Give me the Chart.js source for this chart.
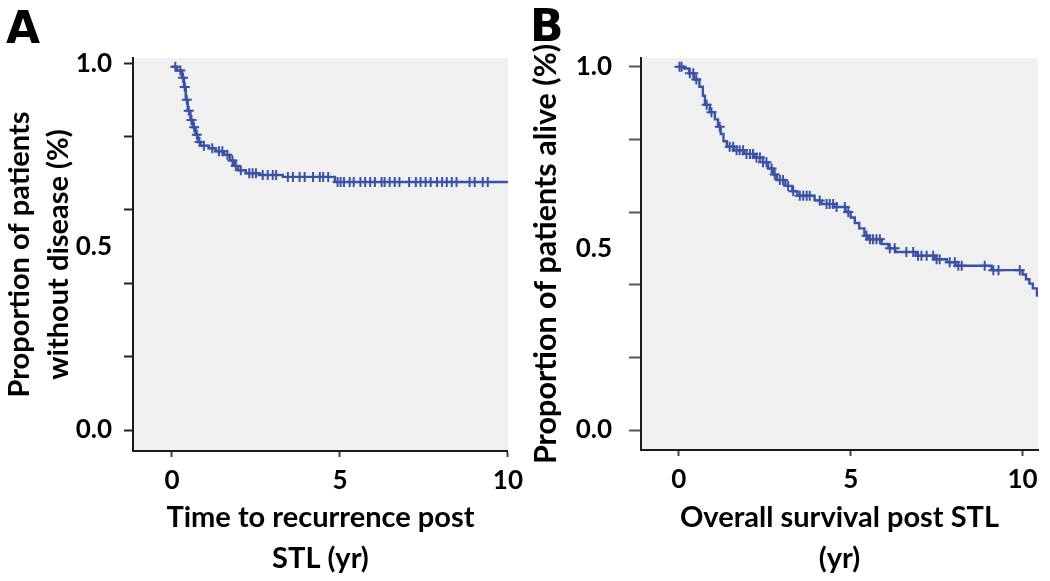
<!DOCTYPE html>
<html>
<head>
<meta charset="utf-8">
<script src="https://cdn.jsdelivr.net/npm/chart.js@4"></script>
<style>
  html, body { margin: 0; padding: 0; background: #ffffff; }
  #wrap { position: relative; width: 1050px; height: 581px; overflow: hidden; }
  canvas { position: absolute; top: 0; }
  #cA { left: 0; }
  #cB { left: 531px; }
  .panel { position: absolute; font-family: "DejaVu Sans", sans-serif; font-weight: bold; font-size: 44px; line-height: 1; color: #000; }
</style>
</head>
<body>
<div id="wrap">
  <canvas id="cA" width="531" height="581"></canvas>
  <canvas id="cB" width="519" height="581"></canvas>
  <div class="panel" style="left:6px; top:6px;">A</div>
  <div class="panel" style="left:530px; top:4px;">B</div>
</div>
<script>
// ---------- DATA ----------
// Panel A: time to recurrence (Kaplan-Meier steps: time in years, proportion after event)
const recurrenceTimes  = [0, 0.15, 0.3, 0.36, 0.41, 0.47, 0.55, 0.62, 0.7, 0.78, 0.85, 1.1, 1.3, 1.55, 1.72, 1.85, 1.97, 2.2, 2.6, 3.3, 4.85, 10];
const recurrenceSurv   = [0.99, 0.98, 0.96, 0.935, 0.9, 0.87, 0.845, 0.825, 0.805, 0.785, 0.775, 0.768, 0.76, 0.75, 0.735, 0.72, 0.708, 0.70, 0.695, 0.69, 0.676, 0.676];
// Panel A censored observations
const recurrenceCensorT = [0.1, 0.25, 0.33, 0.38, 0.44, 0.5, 0.58, 0.66, 0.74, 0.82, 0.95, 1.2, 1.4, 1.5, 1.65, 1.8, 1.9, 2.05, 2.3, 2.4, 2.5, 2.7, 2.85, 3.0, 3.1, 3.45, 3.6, 3.8, 3.95, 4.2, 4.4, 4.5, 4.65,
  4.93, 5.02, 5.12, 5.29, 5.41, 5.61, 5.75, 5.9, 6.04, 6.24, 6.33, 6.48, 6.63, 6.77, 7.06, 7.26, 7.4, 7.55, 7.7, 7.89, 8.04, 8.18, 8.33, 8.47, 8.86, 9.01, 9.25, 9.4];
const recurrenceCensorS = [0.99, 0.98, 0.96, 0.935, 0.9, 0.87, 0.845, 0.825, 0.805, 0.785, 0.775, 0.768, 0.76, 0.76, 0.75, 0.735, 0.72, 0.708, 0.70, 0.70, 0.70, 0.695, 0.695, 0.695, 0.695, 0.69, 0.69, 0.69, 0.69, 0.69, 0.69, 0.69, 0.69,
  0.676, 0.676, 0.676, 0.676, 0.676, 0.676, 0.676, 0.676, 0.676, 0.676, 0.676, 0.676, 0.676, 0.676, 0.676, 0.676, 0.676, 0.676, 0.676, 0.676, 0.676, 0.676, 0.676, 0.676, 0.676, 0.676, 0.676, 0.676];

// Panel B: overall survival
const survivalTimes = [0, 0.15, 0.3, 0.45, 0.6, 0.7, 0.76, 0.9, 1.05, 1.14, 1.22, 1.3, 1.4, 1.6, 1.9, 2.2, 2.45, 2.6, 2.75, 2.85, 3.1, 3.3, 3.45, 3.95, 4.15, 4.5, 4.85, 5.0, 5.12, 5.25, 5.4, 5.5, 5.9, 6.1, 6.3, 6.9, 7.45, 7.8, 8.05, 9.1, 10.0, 10.1, 10.2, 10.3, 10.42];
const survivalSurv  = [1.0, 0.995, 0.982, 0.965, 0.945, 0.92, 0.895, 0.875, 0.855, 0.835, 0.815, 0.795, 0.78, 0.77, 0.76, 0.75, 0.737, 0.72, 0.703, 0.688, 0.672, 0.657, 0.645, 0.632, 0.622, 0.614, 0.6, 0.585, 0.57, 0.555, 0.535, 0.525, 0.512, 0.5, 0.49, 0.48, 0.47, 0.462, 0.452, 0.44, 0.428, 0.415, 0.403, 0.39, 0.367];
const survivalCensorT = [0.02, 0.08, 0.32, 0.42, 0.51, 0.81, 0.95, 1.19, 1.48, 1.58, 1.68, 1.77, 1.87, 1.97, 2.07, 2.16, 2.26, 2.36, 2.45, 2.55, 2.7, 2.79, 2.94, 3.03, 3.18, 3.33, 3.52, 3.62, 3.72, 3.81, 4.1, 4.3, 4.39, 4.49, 4.59, 4.83, 4.93,
  5.46, 5.56, 5.65, 5.75, 5.85, 6.14, 6.28, 6.62, 6.82, 6.96, 7.06, 7.21, 7.4, 7.5, 7.59, 7.88, 8.03, 8.13, 8.23, 8.9, 9.15, 9.3, 9.92];
const survivalCensorS = [1.0, 1.0, 0.982, 0.982, 0.965, 0.895, 0.875, 0.835, 0.78, 0.78, 0.77, 0.77, 0.77, 0.76, 0.76, 0.76, 0.75, 0.75, 0.737, 0.737, 0.72, 0.703, 0.688, 0.688, 0.672, 0.657, 0.645, 0.645, 0.645, 0.645, 0.632, 0.622, 0.622, 0.622, 0.614, 0.614, 0.6,
  0.535, 0.525, 0.525, 0.525, 0.525, 0.5, 0.5, 0.49, 0.49, 0.48, 0.48, 0.48, 0.48, 0.47, 0.47, 0.462, 0.462, 0.452, 0.452, 0.452, 0.44, 0.44, 0.44];

// Axis ticks
const xTickValues = [0, 5, 10];
const xTickLabels = ['0', '5', '10'];
const yTickMarkValues = [0, 0.2, 0.4, 0.6, 0.8, 1.0];
const yTickLabelValues = [0, 0.5, 1.0];
const yTickLabels = ['0.0', '0.5', '1.0'];

// Axis titles
const titleA_x = ['Time to recurrence post', 'STL (yr)'];
const titleA_y = ['Proportion of patients', 'without disease (%)'];
const titleB_x = ['Overall survival post STL', '(yr)'];
const titleB_y = 'Proportion of patients alive (%)';

// ---------- STYLE ----------
const LINE = '#3a52a6';
const FONT = 'Lato';

const toPts = (xs, ys) => xs.map((x, i) => ({ x: x, y: ys[i] }));

const bgPlugin = {
  id: 'plotBg',
  beforeDraw(chart) {
    const a = chart.chartArea, c = chart.ctx;
    c.save();
    c.fillStyle = '#f0f0f0';
    c.fillRect(a.left, a.top, a.right - a.left, a.bottom - a.top);
    c.restore();
  }
};

function makeChart(id, cfg) {
  const yAll = Array.from(new Set(yTickMarkValues.concat(yTickLabelValues))).sort((a, b) => a - b);
  return new Chart(document.getElementById(id), {
    type: 'line',
    data: {
      datasets: [
        { data: toPts(cfg.times, cfg.surv), borderColor: LINE, borderWidth: 2.4, stepped: true, pointRadius: 0, fill: false, tension: 0, order: 2 },
        { type: 'scatter', data: toPts(cfg.censT, cfg.censS), pointStyle: 'cross', pointRadius: 5, borderColor: LINE, borderWidth: 2, backgroundColor: LINE, showLine: false, order: 1 }
      ]
    },
    options: {
      responsive: false,
      animation: false,
      events: [],
      layout: { padding: { top: 58, right: cfg.padRight, left: 0, bottom: 0 } },
      plugins: { legend: { display: false }, tooltip: { enabled: false } },
      scales: {
        x: {
          type: 'linear', min: cfg.xmin, max: cfg.xmax,
          afterBuildTicks: s => { s.ticks = xTickValues.map(v => ({ value: v })); },
          afterFit: s => { s.height = 581 - cfg.bottom; },
          ticks: {
            callback: v => { const i = xTickValues.indexOf(v); return i >= 0 ? xTickLabels[i] : ''; },
            font: { family: FONT, size: 26, weight: 'bold' }, color: '#000', padding: 8, maxRotation: 0, autoSkip: false
          },
          grid: { drawOnChartArea: false, drawTicks: true, tickLength: 6, tickColor: '#444', tickWidth: 2 },
          border: { display: true, color: '#1a1a1a', width: 2 },
          title: { display: true, text: cfg.xTitle, font: { family: FONT, size: 29, weight: 'bold', lineHeight: 1.41 }, color: '#000', padding: { top: 0, bottom: 2 } }
        },
        y: {
          type: 'linear', min: cfg.ymin, max: cfg.ymax,
          afterBuildTicks: s => { s.ticks = yAll.map(v => ({ value: v })); },
          afterFit: s => { s.width = cfg.yWidth; },
          ticks: {
            callback: v => { const i = yTickLabelValues.indexOf(v); return i >= 0 ? yTickLabels[i] : ''; },
            font: { family: FONT, size: 26, weight: 'bold' }, color: '#000', padding: cfg.yPad, autoSkip: false
          },
          grid: {
            drawOnChartArea: false, drawTicks: true, tickLength: cfg.tickLen, tickWidth: 2,
            tickColor: c => (c.tick && yTickMarkValues.indexOf(c.tick.value) >= 0) ? cfg.yTickColor : 'rgba(0,0,0,0)'
          },
          border: { display: true, color: '#1a1a1a', width: 2 },
          title: { display: true, text: cfg.yTitle, font: { family: FONT, size: cfg.yTitleSize, weight: 'bold', lineHeight: cfg.yTitleLH }, color: '#000', padding: { top: cfg.yTitlePad, bottom: 0 } }
        }
      }
    },
    plugins: [bgPlugin]
  });
}

makeChart('cA', {
  times: recurrenceTimes, surv: recurrenceSurv, censT: recurrenceCensorT, censS: recurrenceCensorS,
  xmin: -1.16, xmax: 10, ymin: -0.057, ymax: 1.014,
  padRight: 18, bottom: 451, yWidth: 133, yPad: 12, tickLen: 9, yTickColor: '#222',
  xTitle: titleA_x, yTitle: titleA_y, yTitleSize: 29, yTitleLH: 1.35, yTitlePad: 0
});
makeChart('cB', {
  times: survivalTimes, surv: survivalSurv, censT: survivalCensorT, censS: survivalCensorS,
  xmin: -1.1, xmax: 10.45, ymin: -0.055, ymax: 1.024,
  padRight: 12, bottom: 450, yWidth: 110, yPad: 17, tickLen: 12, yTickColor: '#555',
  xTitle: titleB_x, yTitle: titleB_y, yTitleSize: 30.5, yTitleLH: 1.0, yTitlePad: 0
});
</script>
</body>
</html>
